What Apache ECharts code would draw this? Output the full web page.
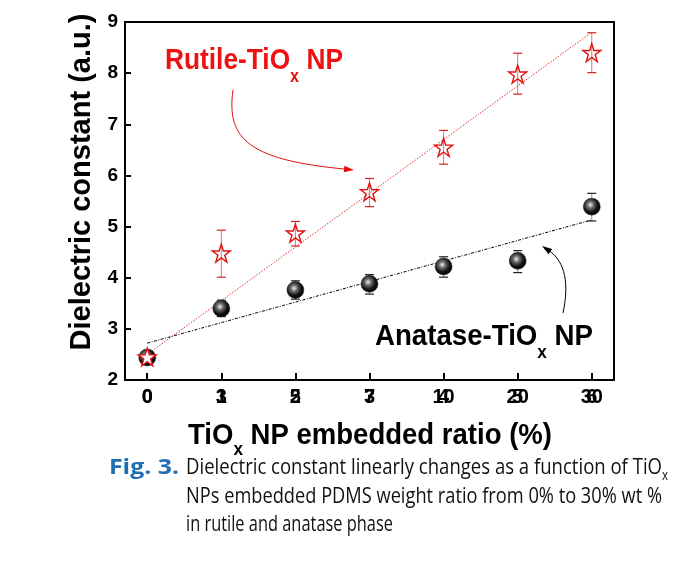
<!DOCTYPE html>
<html><head><meta charset="utf-8">
<script src="https://cdn.jsdelivr.net/npm/echarts@6/dist/echarts.min.js"></script>
<style>html,body{margin:0;padding:0;background:#fff}#c{width:682px;height:580px}</style>
</head><body><div id="c"></div>
<script>
// ---------- data ----------
const xIndex = [0, 1, 2, 3, 4, 5, 6];
const ratioLabels = ['0', '3', '5', '7', '10', '20', '30'];
const indexLabels = ['0', '1', '2', '3', '4', '5', '6'];
const rutile = [2.45, 4.48, 4.87, 5.68, 6.55, 7.98, 8.40];
const rutileLow = [null, 4.01, 4.62, 5.39, 6.22, 7.59, 8.01];
const rutileHigh = [null, 4.93, 5.10, 5.94, 6.88, 8.39, 8.79];
const anatase = [2.44, 3.40, 3.76, 3.88, 4.22, 4.33, 5.39];
const anataseLow = [null, 3.24, 3.58, 3.68, 4.01, 4.10, 5.11];
const anataseHigh = [null, 3.56, 3.94, 4.06, 4.41, 4.53, 5.65];
const fitX = [0, 6];
const rutileFit = [2.50, 8.80];
const anataseFit = [2.72, 5.13];
const yMin = 2, yMax = 9, yStep = 1;

// ---------- helpers ----------
const mctx = document.createElement('canvas').getContext('2d');
function tw(text, weight, size, family) {
  mctx.font = weight + ' ' + size + 'px ' + family;
  return mctx.measureText(text).width;
}
function subText(o) {
  const children = [];
  let cx = 0;
  o.parts.forEach(p => {
    const sub = p[1];
    const fs = sub ? o.size * 0.62 : o.size;
    const w = sub ? (o.subWeight || o.weight) : o.weight;
    children.push({
      type: 'text', x: cx, y: sub ? o.subDy : 0,
      style: { text: p[0], fontSize: fs, fontWeight: w, fontFamily: o.family, fill: p[2] || o.color,
               align: 'left', verticalAlign: 'middle' }
    });
    cx += tw(p[0], w, fs, o.family);
  });
  const sx = o.target ? o.target / cx : 1;
  return { type: 'group', x: o.x, y: o.y, scaleX: sx, scaleY: o.scaleY || 1, children: children, z: 10 };
}
function arrow(x1, y1, c1x, c1y, c2x, c2y, x2, y2, color) {
  const dx = x2 - c2x, dy = y2 - c2y, L = Math.hypot(dx, dy);
  const ux = dx / L, uy = dy / L, len = 10, hw = 3.2;
  const bx = x2 - ux * len, by = y2 - uy * len;
  return [
    { type: 'bezierCurve', shape: { x1: x1, y1: y1, cpx1: c1x, cpy1: c1y, cpx2: c2x, cpy2: c2y, x2: bx + ux * 2, y2: by + uy * 2 },
      style: { stroke: color, lineWidth: 1, fill: null }, z: 10 },
    { type: 'polygon', shape: { points: [[x2, y2], [bx - uy * hw, by + ux * hw], [bx + uy * hw, by - ux * hw]] },
      style: { fill: color }, z: 10 }
  ];
}
function errSeries(low, high, lineColor, capColor) {
  const data = [];
  xIndex.forEach((x, i) => { if (low[i] != null) data.push([x, low[i], high[i]]); });
  return {
    type: 'custom', xAxisIndex: 0, yAxisIndex: 0, z: 2, silent: true, data: data,
    renderItem: function (params, api) {
      const x = api.value(0);
      const p1 = api.coord([x, api.value(2)]), p2 = api.coord([x, api.value(1)]);
      const w = 4.5;
      return { type: 'group', children: [
        { type: 'line', shape: { x1: p1[0], y1: p1[1], x2: p2[0], y2: p2[1] }, style: { stroke: lineColor, lineWidth: 1 } },
        { type: 'line', shape: { x1: p1[0] - w, y1: p1[1], x2: p1[0] + w, y2: p1[1] }, style: { stroke: capColor, lineWidth: 1.2 } },
        { type: 'line', shape: { x1: p2[0] - w, y1: p2[1], x2: p2[0] + w, y2: p2[1] }, style: { stroke: capColor, lineWidth: 1.2 } }
      ] };
    }
  };
}

const starPath = 'path://M50,2 L61.2,36.1 L97,36.1 L68,57.4 L79,91.6 L50,70.5 L21,91.6 L32,57.4 L3,36.1 L38.8,36.1 Z';
const sphere = { type: 'radial', x: 0.42, y: 0.4, r: 0.6,
  colorStops: [{ offset: 0, color: '#f2f2f2' }, { offset: 0.3, color: '#707070' }, { offset: 0.68, color: '#141414' }, { offset: 1, color: '#000' }] };

const AX = 'Liberation Sans, Arial, sans-serif';
const CAP = 'Open Sans, sans-serif';
const baseX = {
  type: 'value', min: -0.3, max: 6.3, position: 'bottom',
  splitLine: { show: false }
};

const option = {
  animation: false,
  backgroundColor: '#fff',
  grid: { left: 125, top: 22, width: 489, height: 358, show: true, borderColor: '#000', borderWidth: 2, backgroundColor: 'transparent' },
  xAxis: [
    Object.assign({}, baseX, {
      axisLine: { show: true, onZero: false, lineStyle: { color: '#000', width: 2 } },
      axisTick: { show: true, inside: true, length: 7, lineStyle: { color: '#000', width: 2 }, customValues: xIndex },
      axisLabel: { customValues: xIndex, formatter: v => ratioLabels[Math.round(v)], color: '#000', fontSize: 20, fontWeight: 'bold', fontFamily: AX, margin: 7 }
    }),
    Object.assign({}, baseX, {
      axisLine: { show: false }, axisTick: { show: false },
      axisLabel: { customValues: xIndex, formatter: v => indexLabels[Math.round(v)], color: '#000', fontSize: 20, fontWeight: 'bold', fontFamily: AX, margin: 7 }
    })
  ],
  yAxis: {
    type: 'value', min: yMin, max: yMax, interval: yStep,
    splitLine: { show: false },
    axisLine: { show: true, onZero: false, lineStyle: { color: '#000', width: 2 } },
    axisTick: { show: true, inside: true, length: 6, lineStyle: { color: '#000', width: 2 } },
    axisLabel: { color: '#000', fontSize: 19, fontWeight: 'bold', fontFamily: AX, margin: 7 }
  },
  series: [
    { type: 'line', xAxisIndex: 0, data: fitX.map((x, i) => [x, rutileFit[i]]), symbol: 'none', silent: true, z: 1,
      lineStyle: { color: '#e23030', width: 1, type: [1.5, 1.5] } },
    { type: 'line', xAxisIndex: 0, data: fitX.map((x, i) => [x, anataseFit[i]]), symbol: 'none', silent: true, z: 1,
      lineStyle: { color: '#000', width: 1, type: [3, 1.5, 1, 1.5] } },
    errSeries(rutileLow, rutileHigh, '#e87070', '#d82020'),
    errSeries(anataseLow, anataseHigh, '#999', '#222'),
    { type: 'scatter', xAxisIndex: 0, z: 3, silent: true, symbol: 'circle', symbolSize: 17,
      data: xIndex.map((x, i) => [x, anatase[i]]),
      itemStyle: { color: sphere, borderColor: '#222', borderWidth: 0.5, opacity: 1 } },
    { type: 'scatter', xAxisIndex: 0, z: 4, silent: true, symbol: starPath, symbolSize: 18,
      data: xIndex.map((x, i) => ({ value: [x, rutile[i]], itemStyle: { color: i === 0 ? '#fff' : 'rgba(255,255,255,0)' } })),
      itemStyle: { borderColor: '#e01010', borderWidth: 1.4, opacity: 1 } }
  ],
  graphic: [
    { type: 'text', x: 82, y: 182, rotation: Math.PI / 2, z: 10,
      style: { text: 'Dielectric constant (a.u.)', fontSize: 29, fontWeight: 'bold', fontFamily: AX, fill: '#000', align: 'center', verticalAlign: 'middle' } },
    subText({ x: 188, y: 436, size: 30, weight: 'bold', family: AX, color: '#000', subDy: 14, target: 364,
      parts: [['TiO', false], ['x', true], [' NP embedded ratio (%)', false]] }),
    subText({ x: 165, y: 61, size: 30, weight: 'bold', family: AX, color: '#ee1111', subDy: 16, target: 178,
      parts: [['Rutile-TiO', false], ['x', true], [' NP', false]] }),
    subText({ x: 375, y: 337, size: 30, weight: 'bold', family: AX, color: '#000', subDy: 16, target: 218,
      parts: [['Anatase-TiO', false], ['x', true], [' NP', false]] }),
    ...arrow(233, 90, 226, 140, 250, 160, 354, 170, '#e01010'),
    ...arrow(563, 313, 569, 285, 566, 262, 542, 246, '#000'),
    subText({ x: 109, y: 468, size: 22, weight: 'bold', family: CAP, color: '#1f6db3', subDy: 0, target: 70,
      parts: [['Fig. 3.', false]] }),
    subText({ x: 186, y: 468, size: 22, weight: 'normal', family: CAP, color: '#111', subDy: 8, target: 482,
      parts: [['Dielectric constant linearly changes as a function of TiO', false], ['x', true]] }),
    subText({ x: 186, y: 497, size: 22, weight: 'normal', family: CAP, color: '#111', subDy: 0, target: 476,
      parts: [['NPs embedded PDMS weight ratio from 0% to 30% wt %', false]] }),
    subText({ x: 186, y: 525, size: 22, weight: 'normal', family: CAP, color: '#111', subDy: 0, target: 207,
      parts: [['in rutile and anatase phase', false]] })
  ]
};
const chart = echarts.init(document.getElementById('c'), null, { renderer: 'canvas' });
chart.setOption(option);
</script>
</body></html>
